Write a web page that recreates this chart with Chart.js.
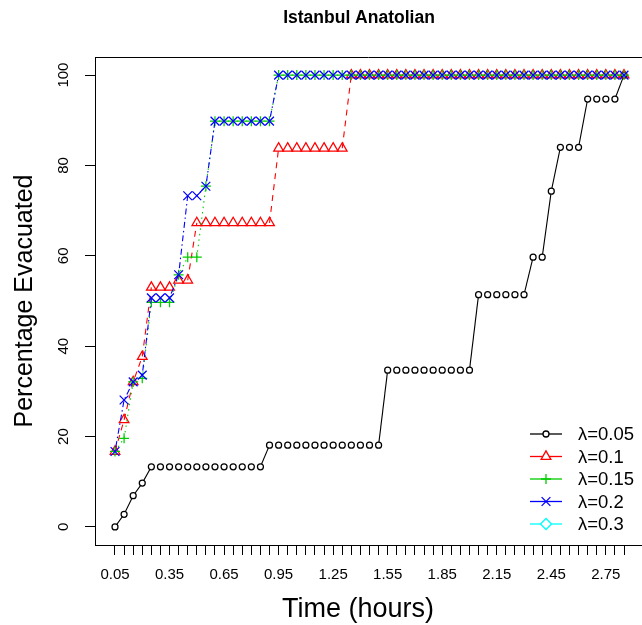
<!DOCTYPE html>
<html>
<head>
<meta charset="utf-8">
<title>Istanbul Anatolian</title>
<script src="https://cdn.jsdelivr.net/npm/chart.js@4.4.1/dist/chart.umd.min.js"></script>
<style>
  html, body { margin: 0; padding: 0; background: #fff; overflow: hidden; }
  #wrap { width: 642px; height: 625px; }
</style>
</head>
<body>
<div id="wrap"><canvas id="evacChart" width="642" height="625"></canvas></div>
<script>
// time steps (hours)
const times = [
  0.05, 0.10, 0.15, 0.20, 0.25, 0.30, 0.35, 0.40, 0.45, 0.50,
  0.55, 0.60, 0.65, 0.70, 0.75, 0.80, 0.85, 0.90, 0.95, 1.00,
  1.05, 1.10, 1.15, 1.20, 1.25, 1.30, 1.35, 1.40, 1.45, 1.50,
  1.55, 1.60, 1.65, 1.70, 1.75, 1.80, 1.85, 1.90, 1.95, 2.00,
  2.05, 2.10, 2.15, 2.20, 2.25, 2.30, 2.35, 2.40, 2.45, 2.50,
  2.55, 2.60, 2.65, 2.70, 2.75, 2.80, 2.85
];

// percentage evacuated for each arrival rate
const evac005 = [
  0, 2.8, 6.9, 9.7, 13.3, 13.3, 13.3, 13.3, 13.3, 13.3,
  13.3, 13.3, 13.3, 13.3, 13.3, 13.3, 13.3, 18.1, 18.1, 18.1,
  18.1, 18.1, 18.1, 18.1, 18.1, 18.1, 18.1, 18.1, 18.1, 18.1,
  34.7, 34.7, 34.7, 34.7, 34.7, 34.7, 34.7, 34.7, 34.7, 34.7,
  51.4, 51.4, 51.4, 51.4, 51.4, 51.4, 59.7, 59.7, 74.3, 84,
  84, 84, 94.7, 94.7, 94.7, 94.7, 100
];
const evac010 = [
  16.7, 23.7, 32.1, 37.7, 53, 53, 53, 54.6, 54.6, 67.3,
  67.3, 67.3, 67.3, 67.3, 67.3, 67.3, 67.3, 67.3, 83.8, 83.8,
  83.8, 83.8, 83.8, 83.8, 83.8, 83.8, 100, 100, 100, 100,
  100, 100, 100, 100, 100, 100, 100, 100, 100, 100,
  100, 100, 100, 100, 100, 100, 100, 100, 100, 100,
  100, 100, 100, 100, 100, 100, 100
];
const evac015 = [
  16.7, 19.6, 32.1, 32.9, 49.7, 49.7, 49.7, 55.8, 59.7, 59.7,
  75.4, 89.8, 89.8, 89.8, 89.8, 89.8, 89.8, 89.8, 100, 100,
  100, 100, 100, 100, 100, 100, 100, 100, 100, 100,
  100, 100, 100, 100, 100, 100, 100, 100, 100, 100,
  100, 100, 100, 100, 100, 100, 100, 100, 100, 100,
  100, 100, 100, 100, 100, 100, 100
];
const evac020 = [
  16.7, 28.1, 32.1, 33.6, 50.7, 50.7, 50.7, 55.8, 73.3, 73.3,
  75.4, 89.8, 89.8, 89.8, 89.8, 89.8, 89.8, 89.8, 100, 100,
  100, 100, 100, 100, 100, 100, 100, 100, 100, 100,
  100, 100, 100, 100, 100, 100, 100, 100, 100, 100,
  100, 100, 100, 100, 100, 100, 100, 100, 100, 100,
  100, 100, 100, 100, 100, 100, 100
];
const evac030 = [];

const seriesLabels = ["λ=0.05", "λ=0.1", "λ=0.15", "λ=0.2", "λ=0.3"];
const yTicks = [0, 20, 40, 60, 80, 100];
const xLabelTicks = [0.05, 0.35, 0.65, 0.95, 1.25, 1.55, 1.85, 2.15, 2.45, 2.75];

const FONT = "'Liberation Sans', Arial, sans-serif";
// the plot region runs past the right edge of the page; titles centre on its visible part
const TITLE_CENTER = 359;

// type "b" look: joins between neighbouring points on a flat run disappear in the gap
function gapColor(color) {
  return ctx => {
    const a = ctx.p0, b = ctx.p1;
    if (a.parsed && b.parsed && Math.abs(a.parsed.y - b.parsed.y) < 2) return "rgba(0,0,0,0)";
    const dx = b.x - a.x;
    const dy = b.y - a.y;
    return Math.hypot(dx, dy) < 12 ? "rgba(0,0,0,0)" : color;
  };
}

function makeSet(label, values, color, pointStyle, radius, dash, fill, order) {
  return {
    label: label,
    data: values.map((v, i) => ({ x: times[i], y: v })),
    showLine: true,
    borderColor: color,
    borderWidth: 1.1,
    borderDash: dash,
    pointStyle: pointStyle,
    pointRadius: radius,
    pointHoverRadius: radius,
    pointBorderColor: color,
    pointBackgroundColor: fill,
    pointBorderWidth: 1.25,
    segment: { borderColor: gapColor(color) },
    order: order
  };
}

// legend inside the plot: short line with the marker on it
const lambdaLegend = {
  id: "lambdaLegend",
  afterDraw(chart) {
    const { ctx, chartArea } = chart;
    const x0 = chartArea.left + 435;
    const yStart = chartArea.bottom - 111;
    ctx.save();
    chart.data.datasets.forEach((ds, i) => {
      const y = yStart + i * 22.5;
      ctx.strokeStyle = ds.borderColor;
      ctx.lineWidth = 1.3;
      ctx.setLineDash([]);
      ctx.beginPath();
      ctx.moveTo(x0, y);
      ctx.lineTo(x0 + 32, y);
      ctx.stroke();
      ctx.fillStyle = "#fff";
      Chart.helpers.drawPoint(ctx, {
        pointStyle: ds.pointStyle,
        radius: ds.pointRadius,
        borderWidth: 1.3,
        rotation: 0
      }, x0 + 16, y);
      ctx.fillStyle = "#000";
      ctx.font = "18.5px " + FONT;
      ctx.textAlign = "left";
      ctx.textBaseline = "middle";
      ctx.fillText(ds.label, x0 + 48, y + 1);
    });
    ctx.restore();
  }
};

// top edge of the frame, plus the main title and x caption centred on TITLE_CENTER
const frameAndTitles = {
  id: "frameAndTitles",
  afterLayout(chart) {
    const tb = chart.titleBlock;
    if (tb) {
      const shift = (tb.left + tb.right) / 2 - TITLE_CENTER;
      tb.left -= shift;
      tb.right -= shift;
    }
  },
  afterDraw(chart) {
    const { ctx, chartArea } = chart;
    ctx.save();
    ctx.strokeStyle = "#000";
    ctx.lineWidth = 1;
    ctx.beginPath();
    ctx.moveTo(chartArea.left, Math.round(chartArea.top) + 0.5);
    ctx.lineTo(chartArea.right, Math.round(chartArea.top) + 0.5);
    ctx.stroke();
    ctx.fillStyle = "#000";
    ctx.font = "27px " + FONT;
    ctx.textAlign = "center";
    ctx.textBaseline = "middle";
    ctx.fillText("Time (hours)", TITLE_CENTER - 1, 610);
    ctx.restore();
  }
};

const ctx = document.getElementById("evacChart");

new Chart(ctx, {
  type: "scatter",
  data: {
    datasets: [
      makeSet(seriesLabels[0], evac005, "#000000", "circle", 3.0, [], "#ffffff", 4),
      makeSet(seriesLabels[1], evac010, "#ff0000", "triangle", 5.6, [6, 5], "rgba(0,0,0,0)", 3),
      makeSet(seriesLabels[2], evac015, "#00cd00", "cross", 5, [1.5, 4], "rgba(0,0,0,0)", 2),
      makeSet(seriesLabels[3], evac020, "#0000ff", "crossRot", 6.2, [1.5, 3, 6, 3], "rgba(0,0,0,0)", 1),
      makeSet(seriesLabels[4], evac030, "#00ffff", "rectRot", 5.5, [7, 3], "rgba(0,0,0,0)", 5)
    ]
  },
  options: {
    responsive: false,
    animation: false,
    devicePixelRatio: 1,
    layout: { padding: 0, autoPadding: false },
    plugins: {
      legend: { display: false },
      tooltip: { enabled: false },
      title: {
        display: true,
        text: "Istanbul Anatolian",
        fullSize: false,
        color: "#000",
        font: { family: FONT, size: 17.5, weight: "bold" },
        padding: { top: 8, bottom: 28 }
      }
    },
    scales: {
      x: {
        type: "linear",
        min: -0.06,
        max: 2.949,
        afterBuildTicks: s => { s.ticks = times.map(v => ({ value: v })); },
        afterFit: s => { s.height = 80; },
        grid: { drawOnChartArea: false, tickLength: 10, tickColor: "#000", tickWidth: 1 },
        border: { display: true, color: "#000", width: 1 },
        ticks: {
          autoSkip: false,
          minRotation: 0,
          maxRotation: 0,
          padding: 11,
          color: "#000",
          font: { family: FONT, size: 15 },
          callback: v => xLabelTicks.some(t => Math.abs(t - v) < 1e-6) ? v.toFixed(2) : ""
        },
        title: { display: false }
      },
      y: {
        min: -4,
        max: 104,
        afterBuildTicks: s => { s.ticks = yTicks.map(v => ({ value: v })); },
        afterFit: s => { s.width = 95; },
        grid: { drawOnChartArea: false, tickLength: 10, tickColor: "#000", tickWidth: 1 },
        border: { display: true, color: "#000", width: 1 },
        ticks: {
          minRotation: 90,
          maxRotation: 90,
          crossAlign: "center",
          padding: 9,
          color: "#000",
          font: { family: FONT, size: 15 }
        },
        title: {
          display: true,
          text: "Percentage Evacuated",
          color: "#000",
          font: { family: FONT, size: 25 },
          padding: { top: 10, bottom: 0 }
        }
      }
    }
  },
  plugins: [lambdaLegend, frameAndTitles]
});
</script>
</body>
</html>
